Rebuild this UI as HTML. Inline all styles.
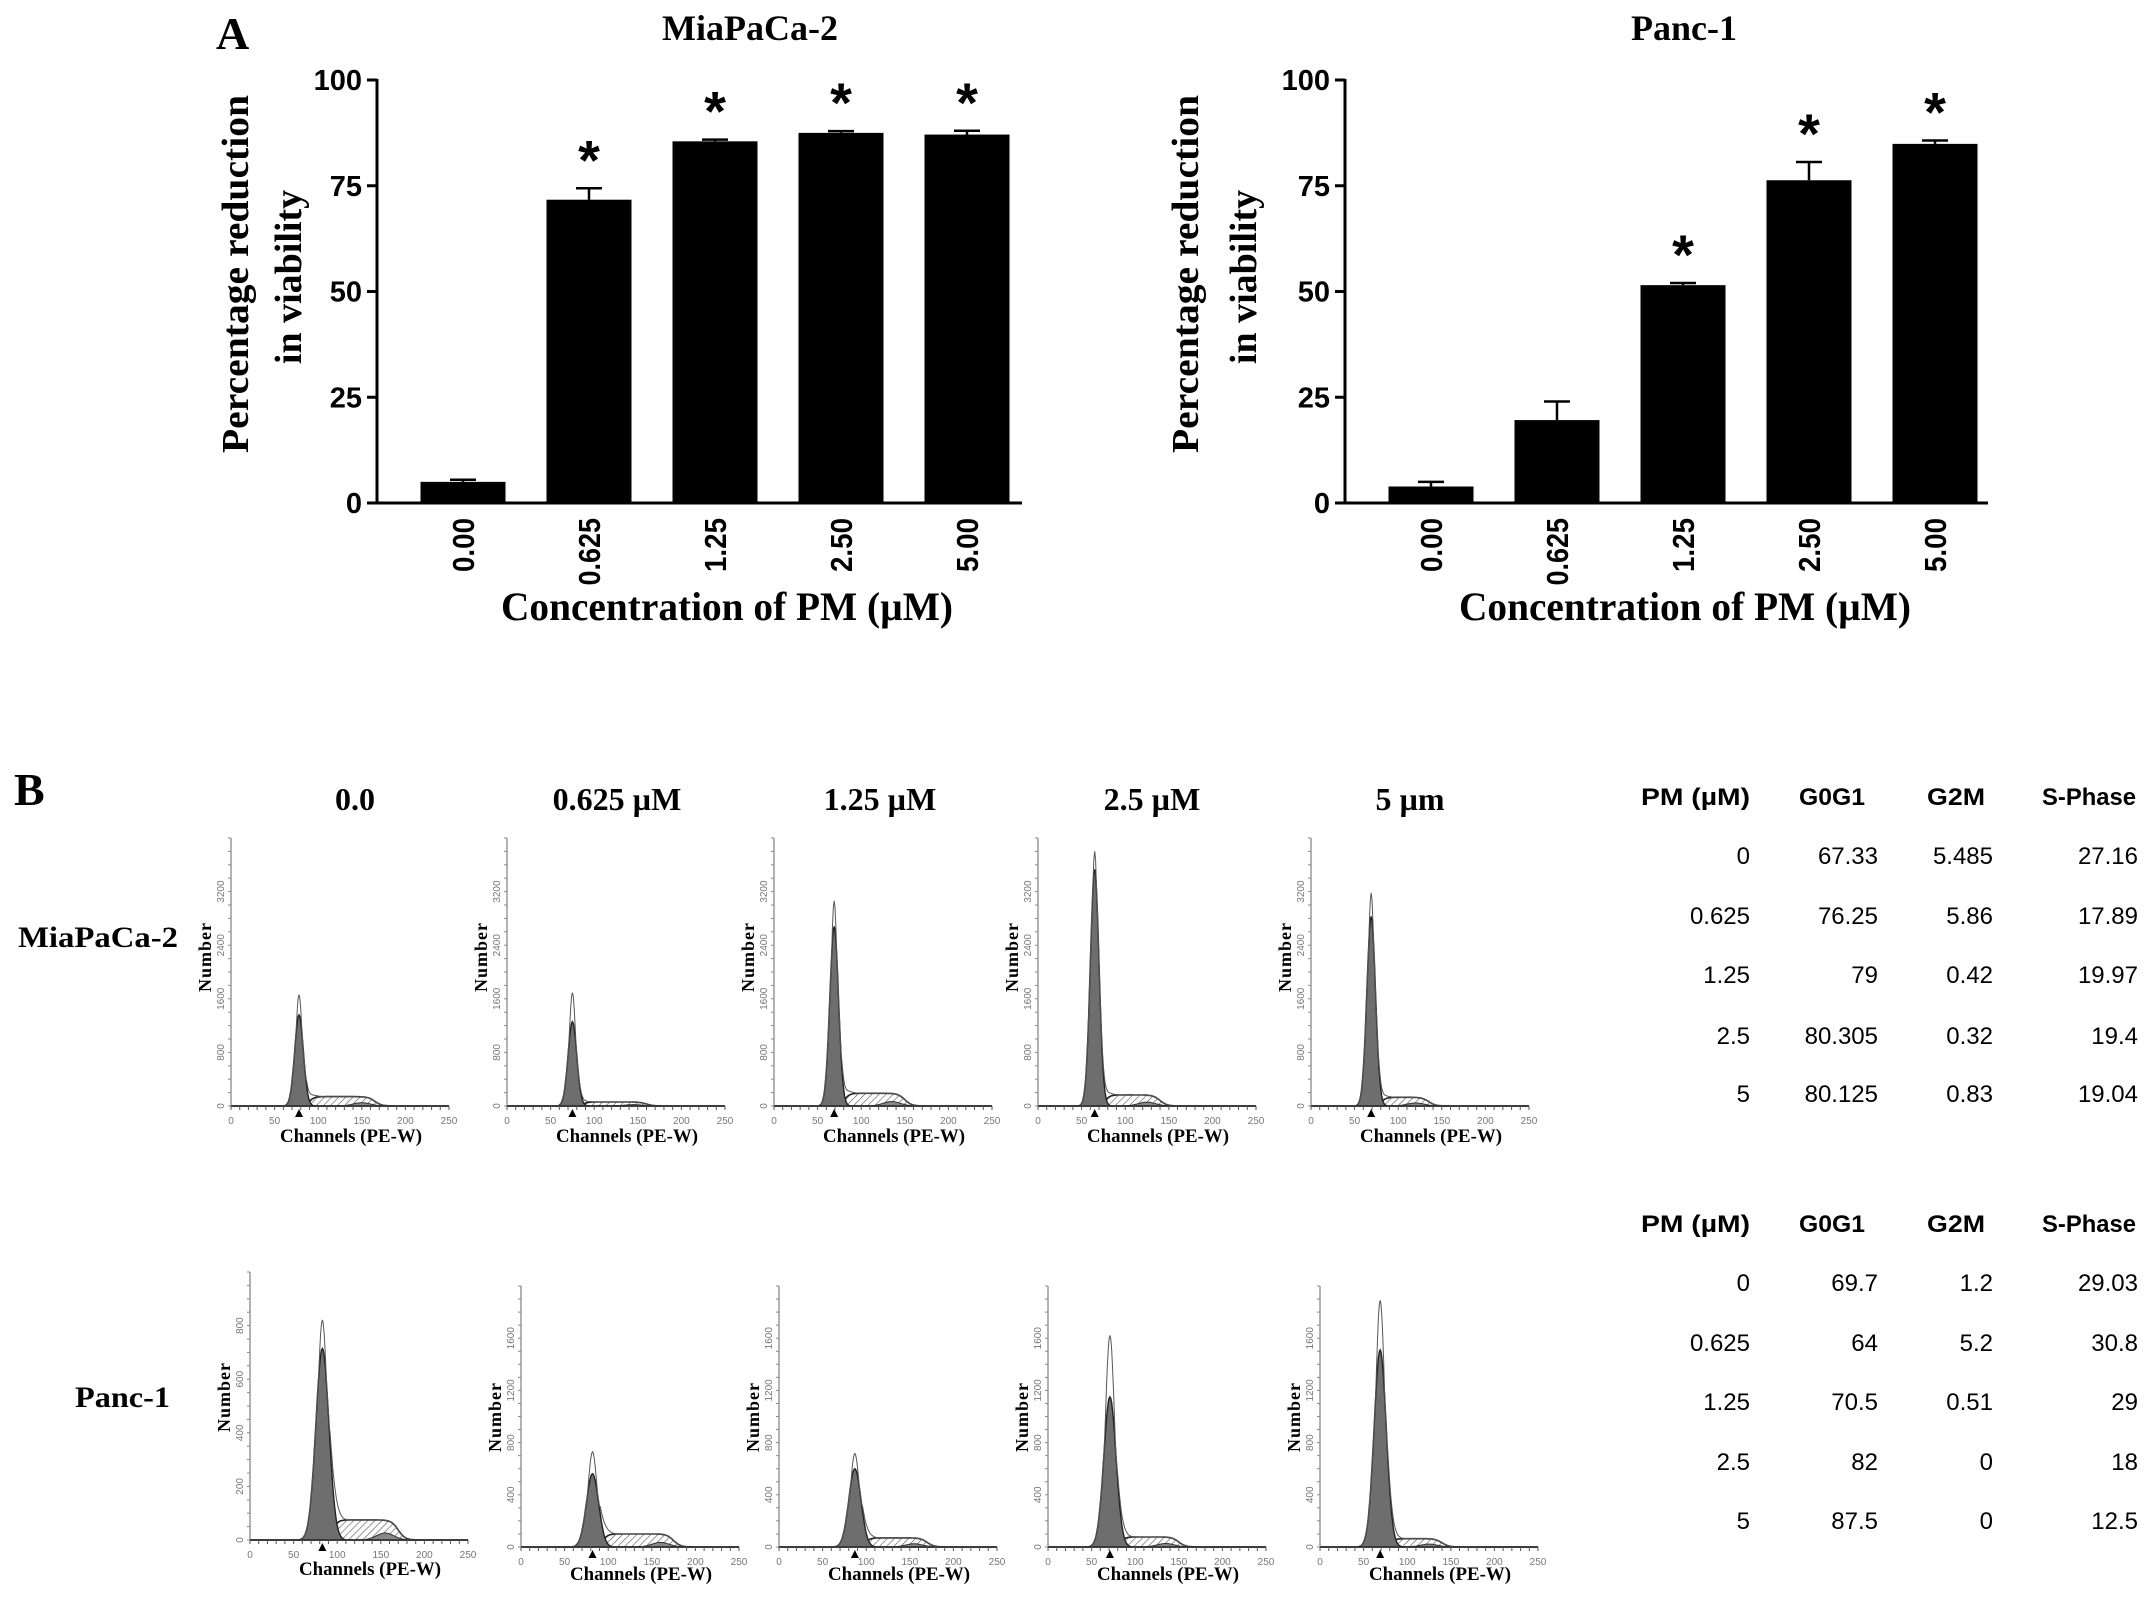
<!DOCTYPE html>
<html><head><meta charset="utf-8"><style>
html,body{margin:0;padding:0;background:#fff;}
svg{display:block;}
.serif{font-family:"Liberation Serif",serif;font-weight:bold;}
.sans{font-family:"Liberation Sans",sans-serif;font-weight:bold;}
.tbl{font-family:"Liberation Sans",sans-serif;}
</style></head><body>
<svg id="fig" xmlns="http://www.w3.org/2000/svg" width="2150" height="1599" viewBox="0 0 2150 1599">
<defs>
<pattern id="hatch" patternUnits="userSpaceOnUse" width="5" height="5" patternTransform="rotate(45)">
<rect width="5" height="5" fill="#fff"/><line x1="0" y1="0" x2="0" y2="5" stroke="#555" stroke-width="1.2"/>
</pattern>
</defs>
<text class="serif" x="216" y="49" font-size="46">A</text>
<text class="serif" x="14" y="805" font-size="46">B</text>
<g id="barA"></g><g id="barB"></g><g id="hists"></g><g id="tables"></g>
</svg>
<script>
const NS="http://www.w3.org/2000/svg";
function mk(tag,attrs,parent,txt){const e=document.createElementNS(NS,tag);for(const k in attrs)e.setAttribute(k,attrs[k]);if(txt!==undefined)e.textContent=txt;parent.appendChild(e);return e;}

// ---------- Panel A data ----------
const concCategories=["0.00","0.625","1.25","2.50","5.00"];
const yTicksA=[0,25,50,75,100];
const miaValues=[5.0,71.7,85.5,87.5,87.1];
const miaErrors=[0.5,2.7,0.4,0.4,0.9];
const miaSig=[false,true,true,true,true];
const pancValues=[3.9,19.6,51.5,76.3,84.9];
const pancErrors=[1.1,4.4,0.5,4.3,0.8];
const pancSig=[false,false,true,true,true];

function barChart(gid,ax,title,titleX,vals,errs,sig,ytitleX1,ytitleX2,xtitleX,xEnd,firstC){
  const g=document.getElementById(gid);
  const y0=503,y100=80;
  const yS=v=>y0-(v/100)*(y0-y100);
  const xS=i=>firstC+i*126;
  const bw=85;
  const t=mk('text',{class:'serif','font-size':36,x:titleX,y:40,'text-anchor':'middle'},g,title);
  
  
  const ya=mk('line',{x1:ax,y1:y100-1,x2:ax,y2:y0+1,stroke:'#000','stroke-width':3},g);
  
  
  const xa=mk('line',{x1:ax-1,y1:y0,x2:xEnd,y2:y0,stroke:'#000','stroke-width':3},g);
  
  
  yTicksA.forEach(v=>{
    const tk=mk('line',{x1:ax-10,y1:yS(v),x2:ax,y2:yS(v),stroke:'#000','stroke-width':3},g);
    
    
    const tl=mk('text',{class:'sans','font-size':29,x:ax-15,y:yS(v)+10,'text-anchor':'end'},g,String(v));
    
    
  });
  vals.forEach((v,i)=>{
    const cx=xS(i);
    const b=mk('rect',{x:cx-bw/2,y:yS(v),width:bw,height:y0-yS(v),fill:'#000'},g);
    
    
    const et=yS(v+errs[i]);
    const e=mk('path',{d:`M${cx},${yS(v)} V${et} M${cx-13},${et} H${cx+13}`,stroke:'#000','stroke-width':2.5,fill:'none'},g);
    
    
    if(sig[i]){
      const s=mk('text',{class:'sans','font-size':56,x:cx,y:et-9,'text-anchor':'middle'},g,'*');
      
      
    }
    const lab=concCategories[i];
    const xl=mk('text',{class:'sans','font-size':31,transform:`translate(${cx+11},518) rotate(-90)`,'text-anchor':'end',textLength:lab.length*13.5,lengthAdjust:'spacingAndGlyphs'},g,lab);
    
    
  });
  const yt1=mk('text',{class:'serif','font-size':38,transform:`translate(${ytitleX1},274) rotate(-90)`,'text-anchor':'middle',textLength:358,lengthAdjust:'spacingAndGlyphs'},g,'Percentage reduction');
  
  
  const yt2=mk('text',{class:'serif','font-size':38,transform:`translate(${ytitleX2},277) rotate(-90)`,'text-anchor':'middle'},g,'in viability');
  
  
  const xt=mk('text',{class:'serif','font-size':40,x:xtitleX,y:620,'text-anchor':'middle',textLength:452,lengthAdjust:'spacingAndGlyphs'},g,'Concentration of PM (µM)');
  
  
}
barChart('barA',377,'MiaPaCa-2',750,miaValues,miaErrors,miaSig,248,301,727,1022,463);
barChart('barB',1345,'Panc-1',1684,pancValues,pancErrors,pancSig,1198,1256,1685,1988,1431);

// ---------- Panel B histogram data ----------
const doseHeaders=["0.0","0.625 µM","1.25 µM","2.5 µM","5 µm"];
const topPeakCh=[78,75,69,65,69];
const topRaw=[1660,1690,3060,3800,3180];
const topFit=[1360,1260,2680,3530,2830];
const topS=[140,60,190,165,130];
const topSEnd=[165,160,150,140,135];
const topYTicks=[0,800,1600,2400,3200];
const botPeakCh=[83,82,87,71,69];
const botRaw=[820,728,715,1620,1890];
const botFit=[715,562,600,1150,1510];
const botS=[75,100,70,77,64];
const botSEnd=[170,175,170,150,140];
const botYTicks1=[0,200,400,600,800];
const botYTicksN=[0,400,800,1200,1600];
const xTicksB=[0,50,100,150,200,250];

const hg=document.getElementById('hists');
const hdrX=[355,617,880,1152,1410];
doseHeaders.forEach((h,i)=>{
  const t=mk('text',{class:'serif','font-size':32,x:hdrX[i],y:810,'text-anchor':'middle'},hg,h);
  
  
});
const r1=mk('text',{class:'serif','font-size':30,x:18,y:947,textLength:160,lengthAdjust:'spacingAndGlyphs'},hg,'MiaPaCa-2');


const r2=mk('text',{class:'serif','font-size':30,x:75,y:1407,textLength:95,lengthAdjust:'spacingAndGlyphs'},hg,'Panc-1');



function gauss(x,m,s){return Math.exp(-0.5*((x-m)/s)**2);}
function sig(x){return 1/(1+Math.exp(-x));}
function histo(ox,by,ty,ymax,peak,raw,fit,sH,sEnd,yt,sd,chY,numY){
  const g=mk('g',{},hg);
  
  
  const W=218;
  const xS=c=>ox+c/250*W;
  const yS=v=>by-v/ymax*(by-ty);
  const sf=c=>sH*sig((c-(peak+12))/3)*sig((sEnd-c)/4);
  let fitPts=[],rawPts=[],sPts=[],g2Pts=[];
  for(let c=0;c<=250;c+=1){
    const f=fit*gauss(c,peak,sd);
    const r=Math.max(raw*gauss(c,peak,sd*0.75),f)+sf(c)+(c>peak+8?sH*0.4*gauss(c,peak+12,6):0);
    fitPts.push([xS(c),yS(f)]);rawPts.push([xS(c),yS(r)]);
    sPts.push([xS(c),yS(sf(c))]);
    g2Pts.push([xS(c),yS(sH*0.35*gauss(c,sEnd-15,10))]);
  }
  const toD=p=>'M'+p.map(q=>q[0].toFixed(1)+','+q[1].toFixed(1)).join('L');
  const s=mk('path',{d:toD(sPts)+`L${xS(250)},${by}L${xS(0)},${by}Z`,fill:'url(#hatch)',stroke:'#222','stroke-width':1.6},g);
  
  
  const g2=mk('path',{d:toD(g2Pts)+`L${xS(250)},${by}L${xS(0)},${by}Z`,fill:'#888',stroke:'#333','stroke-width':1},g);
  
  
  const f=mk('path',{d:toD(fitPts)+`L${xS(250)},${by}L${xS(0)},${by}Z`,fill:'#6e6e6e',stroke:'#222','stroke-width':1.4},g);
  
  
  const r=mk('path',{d:toD(rawPts),fill:'none',stroke:'#555','stroke-width':1},g);
  
  
  const ya=mk('line',{x1:ox,y1:ty,x2:ox,y2:by,stroke:'#666','stroke-width':1},g);
  
  
  const xa=mk('line',{x1:ox,y1:by,x2:ox+W,y2:by,stroke:'#333','stroke-width':1.5},g);
  
  
  for(let c=0;c<=250;c+=10){mk('line',{x1:xS(c),y1:by,x2:xS(c),y2:by+4,stroke:'#555','stroke-width':1},g);}
  for(let k=0;k<=20;k++){const yy=by-k*(by-ty)/20;mk('line',{x1:ox-3,y1:yy,x2:ox,y2:yy,stroke:'#888','stroke-width':1},g);}
  xTicksB.forEach(c=>{
    const t=mk('text',{class:'tbl','font-size':10,fill:'#777',x:xS(c),y:by+18,'text-anchor':'middle'},g,String(c));
    
    
  });
  yt.forEach(v=>{
    const t=mk('text',{class:'tbl','font-size':10,fill:'#777',transform:`translate(${ox-7},${yS(v)}) rotate(-90)`,'text-anchor':'middle'},g,String(v));
    
    
  });
  const tri=mk('path',{d:`M${xS(peak)-4},${by+11}L${xS(peak)+4},${by+11}L${xS(peak)},${by+3}Z`,fill:'#000'},g);
  
  
  const nl=mk('text',{class:'serif','font-size':18,'letter-spacing':1,transform:`translate(${ox-20},${numY}) rotate(-90)`,'text-anchor':'middle'},g,'Number');
  
  
  const cl=mk('text',{class:'serif','font-size':19,x:ox+120,y:chY,'text-anchor':'middle',textLength:142,lengthAdjust:'spacingAndGlyphs'},g,'Channels (PE-W)');
  
  
}
const topAx=[231,507,774,1038,1311];
const botAx=[250,521,779,1048,1320];
topAx.forEach((ox,i)=>histo(ox,1106,838,4000,topPeakCh[i],topRaw[i],topFit[i],topS[i],topSEnd[i],topYTicks,5,1142,957));
botAx.forEach((ox,i)=>{
  if(i===0) histo(ox,1540,1272,1000,botPeakCh[i],botRaw[i],botFit[i],botS[i],botSEnd[i],botYTicks1,7.5,1575,1397);
  else histo(ox,1547,1286,2000,botPeakCh[i],botRaw[i],botFit[i],botS[i],botSEnd[i],botYTicksN,7,1580,1417);
});

// ---------- Tables ----------
const tblHeaders=["PM (µM)","G0G1","G2M","S-Phase"];
const miaPM=["0","0.625","1.25","2.5","5"];
const miaG0G1=["67.33","76.25","79","80.305","80.125"];
const miaG2M=["5.485","5.86","0.42","0.32","0.83"];
const miaS=["27.16","17.89","19.97","19.4","19.04"];
const pancPM=["0","0.625","1.25","2.5","5"];
const pancG0G1=["69.7","64","70.5","82","87.5"];
const pancG2M=["1.2","5.2","0.51","0","0"];
const pancS=["29.03","30.8","29","18","12.5"];
const tg=document.getElementById('tables');
const colRight=[1750,1878,1993,2138];
const hdrStart=[1641,1799,1927,2042];
const hdrW=[109,66,58,94];
function table(hy,rowYs,cols,name){
  const g=mk('g',{},tg);
  
  
  tblHeaders.forEach((h,i)=>{
    const t=mk('text',{class:'tbl','font-weight':'bold','font-size':24,x:hdrStart[i],y:hy,textLength:hdrW[i],lengthAdjust:'spacingAndGlyphs'},g,h);
    
    
  });
  cols.forEach((col,ci)=>col.forEach((v,ri)=>{
    const t=mk('text',{class:'tbl','font-size':24,x:colRight[ci],y:rowYs[ri],'text-anchor':'end'},g,v);
    
    
  }));
}
table(805,[864,924,983,1044,1102],[miaPM,miaG0G1,miaG2M,miaS],'miapaca-cell-cycle-table');
table(1232,[1291,1351,1410,1470,1529],[pancPM,pancG0G1,pancG2M,pancS],'panc-cell-cycle-table');
</script>
</body></html>
